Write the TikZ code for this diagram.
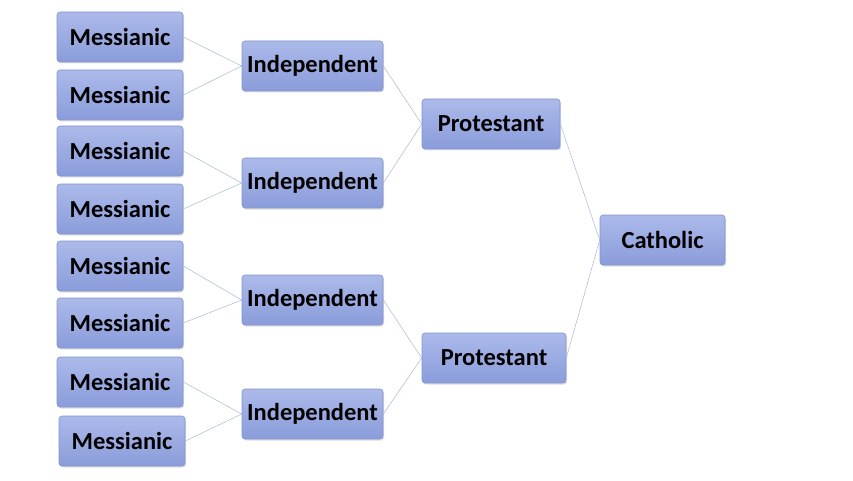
\documentclass[tikz,border=0pt]{standalone}
\usepackage{fontspec}
\setmainfont{Carlito}
\usetikzlibrary{shadows}
\definecolor{topc}{RGB}{172,186,234}
\definecolor{botc}{RGB}{138,156,218}
\definecolor{edgec}{RGB}{130,148,208}
\definecolor{linkc}{RGB}{165,185,215}
\begin{document}
\begin{tikzpicture}[x=1pt,y=1pt,
 box/.style={draw=edgec, line width=0.6pt, rounded corners=3pt, top color=topc, bottom color=botc,
   shade, drop shadow={opacity=0.25,shadow xshift=1pt,shadow yshift=-1.5pt}, minimum height=50pt, font=\bfseries\fontsize{24.5}{26}\selectfont, inner sep=0pt},
 link/.style={draw=linkc, line width=0.5pt}]
\useasboundingbox (0,0) rectangle (853,480);
\foreach \i/\y in {1/37,2/95,3/151,4/209,5/266,6/323,7/382}
  \node[box, minimum width=126pt] (m\i) at (120,480-\y) {Messianic};
\node[box, minimum width=126pt] (m8) at (122,480-441) {Messianic};
\foreach \i/\y in {1/66,2/183,3/300,4/414}
  \node[box, minimum width=141pt] (i\i) at (312.5,480-\y) {Independent};
\node[box, minimum width=138pt] (p1) at (491,480-124) {Protestant};
\node[box, minimum width=144pt] (p2) at (494,480-358) {Protestant};
\node[box, minimum width=125pt] (c) at (662.5,480-240) {Catholic};
\foreach \a/\b in {m1/i1,m2/i1,m3/i2,m4/i2,m5/i3,m6/i3,m7/i4,m8/i4,i1/p1,i2/p1,i3/p2,i4/p2,p1/c,p2/c}
  \draw[link] (\a.east) -- (\b.west);
\end{tikzpicture}
\end{document}
